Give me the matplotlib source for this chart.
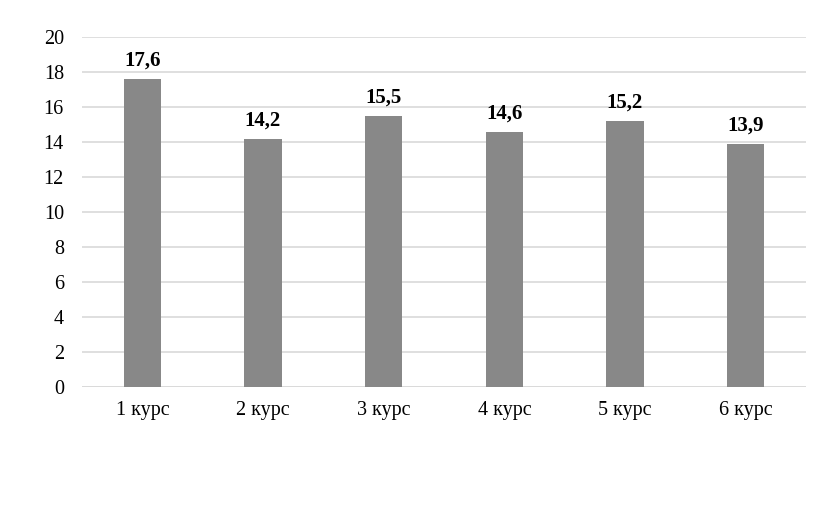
import matplotlib
matplotlib.use("Agg")
import matplotlib.pyplot as plt

categories = ["1 курс", "2 курс", "3 курс", "4 курс", "5 курс", "6 курс"]
values = [17.6, 14.2, 15.5, 14.6, 15.2, 13.9]
labels = ["17,6", "14,2", "15,5", "14,6", "15,2", "13,9"]
yticks = [0, 2, 4, 6, 8, 10, 12, 14, 16, 18, 20]

plt.rcParams['font.family'] = ['Liberation Serif', 'DejaVu Serif']

fig = plt.figure(figsize=(8.31, 5.05), dpi=100)
ax = fig.add_axes([82/831, 1 - 387/505, (806-82)/831, (387-37)/505])

x = list(range(len(categories)))
ax.bar(x, values, width=0.31, color="#888888", zorder=3)
for xi, v, lab in zip(x, values, labels):
    ax.annotate(lab, (xi, v), xytext=(0, 9.5), textcoords="offset points",
                ha="center", va="baseline", fontsize=15,
                fontweight="bold", color="black")

ax.set_xlim(-0.5, len(categories) - 0.5)
ax.set_ylim(0, 20)
ax.set_yticks(yticks)
ax.set_yticklabels([str(t) for t in yticks], fontsize=14.5)
ax.set_xticks(x)
ax.set_xticklabels(categories, fontsize=14.5)
ax.yaxis.grid(True, color="#d9d9d9", linewidth=1.2, zorder=0)
ax.set_axisbelow(True)
for s in ["top", "right", "left", "bottom"]:
    ax.spines[s].set_visible(False)
ax.tick_params(axis="x", length=0, pad=10)
ax.tick_params(axis="y", length=0, pad=13)
ax.axhline(0, color="#d9d9d9", linewidth=1.2, zorder=1)

fig.savefig("out.png", dpi=100)
